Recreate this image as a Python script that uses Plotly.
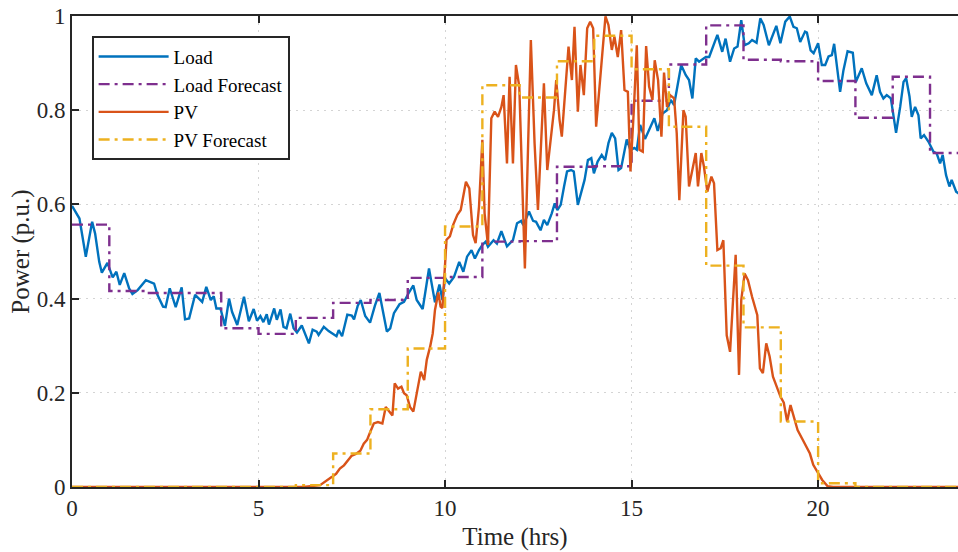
import plotly.graph_objects as go

# ---------------- data ----------------
hours = list(range(25))

load_forecast = [0.557, 0.416, 0.412, 0.412, 0.337, 0.325, 0.359, 0.391, 0.397, 0.444,
                 0.446, 0.521, 0.522, 0.680, 0.681, 0.820, 0.897, 0.980, 0.907, 0.904,
                 0.862, 0.784, 0.871, 0.709]

pv_forecast = [0, 0, 0, 0, 0, 0, 0.004, 0.071, 0.165, 0.294, 0.553, 0.853, 0.827, 0.904,
               0.958, 0.887, 0.765, 0.470, 0.339, 0.139, 0.008, 0, 0, 0]

load_t = [0.00, 0.20, 0.37, 0.54, 0.62, 0.73, 0.80, 0.95, 1.09, 1.19, 1.28, 1.40, 1.53, 1.62,
          1.76, 1.98, 2.20, 2.29, 2.44, 2.51, 2.62, 2.78, 2.94, 3.03, 3.14, 3.30, 3.49, 3.60,
          3.72, 3.80, 3.87, 3.98, 4.10, 4.21, 4.29, 4.43, 4.61, 4.74, 4.87, 4.96, 5.05, 5.13,
          5.22, 5.28, 5.42, 5.49, 5.59, 5.67, 5.75, 5.85, 5.94, 6.03, 6.16, 6.24, 6.35, 6.45,
          6.56, 6.61, 6.75, 6.88, 7.00, 7.09, 7.15, 7.24, 7.38, 7.50, 7.56, 7.66, 7.74, 7.86,
          7.99, 8.12, 8.24, 8.33, 8.44, 8.53, 8.63, 8.78, 8.90, 9.04, 9.15, 9.24, 9.40, 9.57,
          9.73, 9.85, 9.93, 10.00, 10.11, 10.24, 10.38, 10.49, 10.59, 10.71, 10.80, 10.91,
          11.00, 11.09, 11.15, 11.30, 11.39, 11.51, 11.66, 11.82, 11.93, 12.04, 12.10, 12.25,
          12.36, 12.44, 12.56, 12.65, 12.74, 12.86, 12.94, 13.01, 13.10, 13.19, 13.27, 13.38,
          13.45, 13.56, 13.66, 13.74, 13.83, 13.92, 13.99, 14.09, 14.20, 14.29, 14.38, 14.47,
          14.56, 14.65, 14.72, 14.87, 14.97, 15.07, 15.14, 15.23, 15.36, 15.47, 15.61, 15.70,
          15.83, 15.95, 16.05, 16.14, 16.23, 16.33, 16.45, 16.54, 16.63, 16.72, 16.81, 16.90,
          16.99, 17.08, 17.19, 17.30, 17.43, 17.52, 17.64, 17.75, 17.84, 17.94, 18.03, 18.14,
          18.23, 18.35, 18.45, 18.54, 18.68, 18.79, 18.88, 18.99, 19.12, 19.24, 19.34, 19.43,
          19.52, 19.65, 19.70, 19.80, 19.88, 20.00, 20.10, 20.19, 20.28, 20.37, 20.43, 20.59,
          20.68, 20.79, 20.93, 21.01, 21.17, 21.29, 21.44, 21.57, 21.66, 21.75, 21.84, 21.95,
          22.09, 22.20, 22.29, 22.36, 22.45, 22.51, 22.60, 22.69, 22.75, 22.84, 22.96, 23.09,
          23.18, 23.27, 23.34, 23.43, 23.52, 23.58, 23.70, 24.00]
load_v = [0.597, 0.570, 0.489, 0.563, 0.538, 0.478, 0.455, 0.476, 0.445, 0.457, 0.429, 0.454,
          0.422, 0.410, 0.418, 0.439, 0.432, 0.408, 0.383, 0.382, 0.422, 0.382, 0.424, 0.356,
          0.358, 0.408, 0.393, 0.425, 0.397, 0.405, 0.379, 0.379, 0.342, 0.400, 0.372, 0.344,
          0.404, 0.352, 0.378, 0.353, 0.363, 0.350, 0.367, 0.345, 0.379, 0.355, 0.377, 0.340,
          0.337, 0.368, 0.337, 0.328, 0.343, 0.326, 0.305, 0.334, 0.330, 0.323, 0.340, 0.331,
          0.325, 0.320, 0.333, 0.320, 0.366, 0.364, 0.356, 0.385, 0.397, 0.363, 0.349, 0.385,
          0.412, 0.376, 0.330, 0.337, 0.369, 0.388, 0.393, 0.414, 0.428, 0.397, 0.378, 0.464,
          0.392, 0.430, 0.397, 0.443, 0.432, 0.446, 0.478, 0.457, 0.489, 0.503, 0.485, 0.503,
          0.514, 0.521, 0.510, 0.524, 0.517, 0.543, 0.511, 0.524, 0.560, 0.565, 0.556, 0.585,
          0.565, 0.563, 0.545, 0.567, 0.556, 0.581, 0.602, 0.588, 0.599, 0.638, 0.670, 0.673,
          0.670, 0.599, 0.627, 0.652, 0.694, 0.698, 0.666, 0.691, 0.705, 0.694, 0.730, 0.752,
          0.740, 0.673, 0.677, 0.738, 0.715, 0.720, 0.716, 0.769, 0.739, 0.757, 0.783, 0.756,
          0.793, 0.800, 0.822, 0.811, 0.853, 0.896, 0.875, 0.864, 0.825, 0.910, 0.903, 0.908,
          0.913, 0.913, 0.935, 0.960, 0.924, 0.952, 0.903, 0.931, 0.935, 0.991, 0.938, 0.942,
          0.949, 0.943, 0.995, 0.981, 0.938, 0.963, 0.979, 0.942, 0.988, 0.999, 0.977, 0.974,
          0.945, 0.967, 0.965, 0.927, 0.921, 0.942, 0.896, 0.896, 0.914, 0.917, 0.941, 0.839,
          0.885, 0.925, 0.922, 0.860, 0.889, 0.857, 0.832, 0.874, 0.839, 0.825, 0.832, 0.825,
          0.752, 0.807, 0.860, 0.868, 0.829, 0.786, 0.807, 0.789, 0.740, 0.747, 0.733, 0.712,
          0.708, 0.687, 0.705, 0.662, 0.638, 0.652, 0.627, 0.610]

pv_t = [0.00, 6.20, 6.65, 6.83, 6.96, 7.08, 7.18, 7.29, 7.40, 7.49, 7.61, 7.73, 7.82, 7.91,
        7.98, 8.09, 8.20, 8.32, 8.41, 8.50, 8.59, 8.65, 8.74, 8.83, 8.90, 8.97, 9.06, 9.15,
        9.24, 9.35, 9.44, 9.51, 9.60, 9.67, 9.73, 9.82, 9.88, 9.93, 10.04, 10.13, 10.22,
        10.33, 10.42, 10.56, 10.65, 10.75, 10.82, 10.91, 11.00, 11.06, 11.15, 11.24, 11.33,
        11.42, 11.51, 11.57, 11.66, 11.73, 11.82, 11.90, 11.99, 12.14, 12.30, 12.40, 12.49,
        12.65, 12.74, 12.85, 12.92, 12.98, 13.07, 13.13, 13.22, 13.31, 13.40, 13.47, 13.56,
        13.63, 13.72, 13.81, 13.89, 13.97, 14.05, 14.17, 14.30, 14.38, 14.47, 14.54, 14.63,
        14.72, 14.81, 14.90, 14.97, 15.06, 15.14, 15.21, 15.30, 15.39, 15.47, 15.56, 15.62,
        15.71, 15.80, 15.87, 15.95, 16.03, 16.14, 16.21, 16.28, 16.39, 16.45, 16.54, 16.63,
        16.72, 16.78, 16.87, 16.94, 17.03, 17.14, 17.21, 17.30, 17.39, 17.46, 17.55, 17.64,
        17.79, 17.88, 17.94, 18.03, 18.12, 18.23, 18.37, 18.44, 18.52, 18.61, 18.70, 18.79,
        18.90, 18.99, 19.08, 19.17, 19.26, 19.35, 19.45, 19.57, 19.69, 19.78, 19.87, 19.97,
        20.11, 20.25, 20.40, 24.00]
pv_v = [0, 0, 0.004, 0.013, 0.021, 0.028, 0.039, 0.046, 0.057, 0.066, 0.070, 0.077, 0.092,
        0.100, 0.114, 0.135, 0.138, 0.135, 0.170, 0.160, 0.152, 0.220, 0.209, 0.213, 0.199,
        0.195, 0.170, 0.160, 0.199, 0.245, 0.227, 0.270, 0.298, 0.326, 0.376, 0.413, 0.383,
        0.380, 0.525, 0.532, 0.557, 0.578, 0.588, 0.648, 0.634, 0.535, 0.518, 0.595, 0.737,
        0.581, 0.514, 0.783, 0.797, 0.786, 0.807, 0.832, 0.687, 0.871, 0.687, 0.896, 0.850,
        0.464, 0.949, 0.729, 0.588, 0.857, 0.673, 0.758, 0.800, 0.864, 0.779, 0.744, 0.843,
        0.935, 0.864, 0.977, 0.797, 0.896, 0.832, 0.974, 0.988, 0.974, 0.765, 0.871, 0.999,
        0.981, 0.928, 0.956, 0.913, 0.970, 0.843, 0.839, 0.670, 0.800, 0.938, 0.716, 0.712,
        0.936, 0.850, 0.822, 0.906, 0.864, 0.744, 0.880, 0.807, 0.832, 0.825, 0.751, 0.609,
        0.800, 0.786, 0.638, 0.673, 0.709, 0.638, 0.709, 0.680, 0.627, 0.659, 0.645, 0.503,
        0.507, 0.524, 0.322, 0.287, 0.493, 0.238, 0.397, 0.453, 0.439, 0.404, 0.365, 0.252,
        0.242, 0.305, 0.277, 0.234, 0.213, 0.192, 0.179, 0.139, 0.174, 0.150, 0.121, 0.103,
        0.086, 0.071, 0.047, 0.033, 0.015, 0.002, 0, 0]

x_ticks = [0, 5, 10, 15, 20]
y_ticks = [0, 0.2, 0.4, 0.6, 0.8, 1]
y_tick_text = ["0", "0.2", "0.4", "0.6", "0.8", "1"]

# ---------------- styling ----------------
BLUE = "#0072BD"
ORANGE = "#D95319"
YELLOW = "#EDB120"
PURPLE = "#7E2F8E"
INK = "#262626"
FONT = "Liberation Serif"
DASHDOT = "11px,5px,3px,5px"

fig = go.Figure()
fig.add_trace(go.Scatter(x=load_t, y=load_v, mode="lines", name="Load",
                         line=dict(color=BLUE, width=2.4)))
fig.add_trace(go.Scatter(x=hours, y=load_forecast + [load_forecast[-1]], mode="lines",
                         name="Load Forecast", line=dict(color=PURPLE, width=2.4, dash=DASHDOT, shape="hv")))
fig.add_trace(go.Scatter(x=pv_t, y=pv_v, mode="lines", name="PV",
                         line=dict(color=ORANGE, width=2.4)))
fig.add_trace(go.Scatter(x=hours, y=pv_forecast + [pv_forecast[-1]], mode="lines",
                         name="PV Forecast", line=dict(color=YELLOW, width=2.4, dash=DASHDOT, shape="hv")))

axis_common = dict(
    showline=True, linecolor=INK, linewidth=1.6,
    ticks="inside", ticklen=7, tickwidth=1.6, tickcolor=INK,
    showgrid=True, gridcolor="#d4d4d4", griddash="2px,5px", gridwidth=1.2,
    zeroline=False,
    tickfont=dict(family=FONT, size=23, color=INK),
)

fig.update_layout(
    width=958, height=552,
    margin=dict(l=72, r=0, t=16, b=65),
    paper_bgcolor="white", plot_bgcolor="white",
    font=dict(family=FONT, color=INK),
    xaxis=dict(range=[0, 23.75], tickvals=x_ticks, mirror="ticks",
               title=dict(text="Time (hrs)", font=dict(family=FONT, size=25, color=INK), standoff=7),
               **axis_common),
    yaxis=dict(range=[0, 1], tickvals=y_ticks, ticktext=y_tick_text, mirror=False,
               title=dict(text="Power (p.u.)", font=dict(family=FONT, size=25, color=INK), standoff=0),
               **axis_common),
    legend=dict(x=0.0226, y=0.9575, xanchor="left", yanchor="top",
                bgcolor="white", bordercolor=INK, borderwidth=1.6,
                font=dict(family=FONT, size=19, color="black"),
                tracegroupgap=0, itemwidth=70),
    showlegend=True,
)

fig.write_html("out.html")
